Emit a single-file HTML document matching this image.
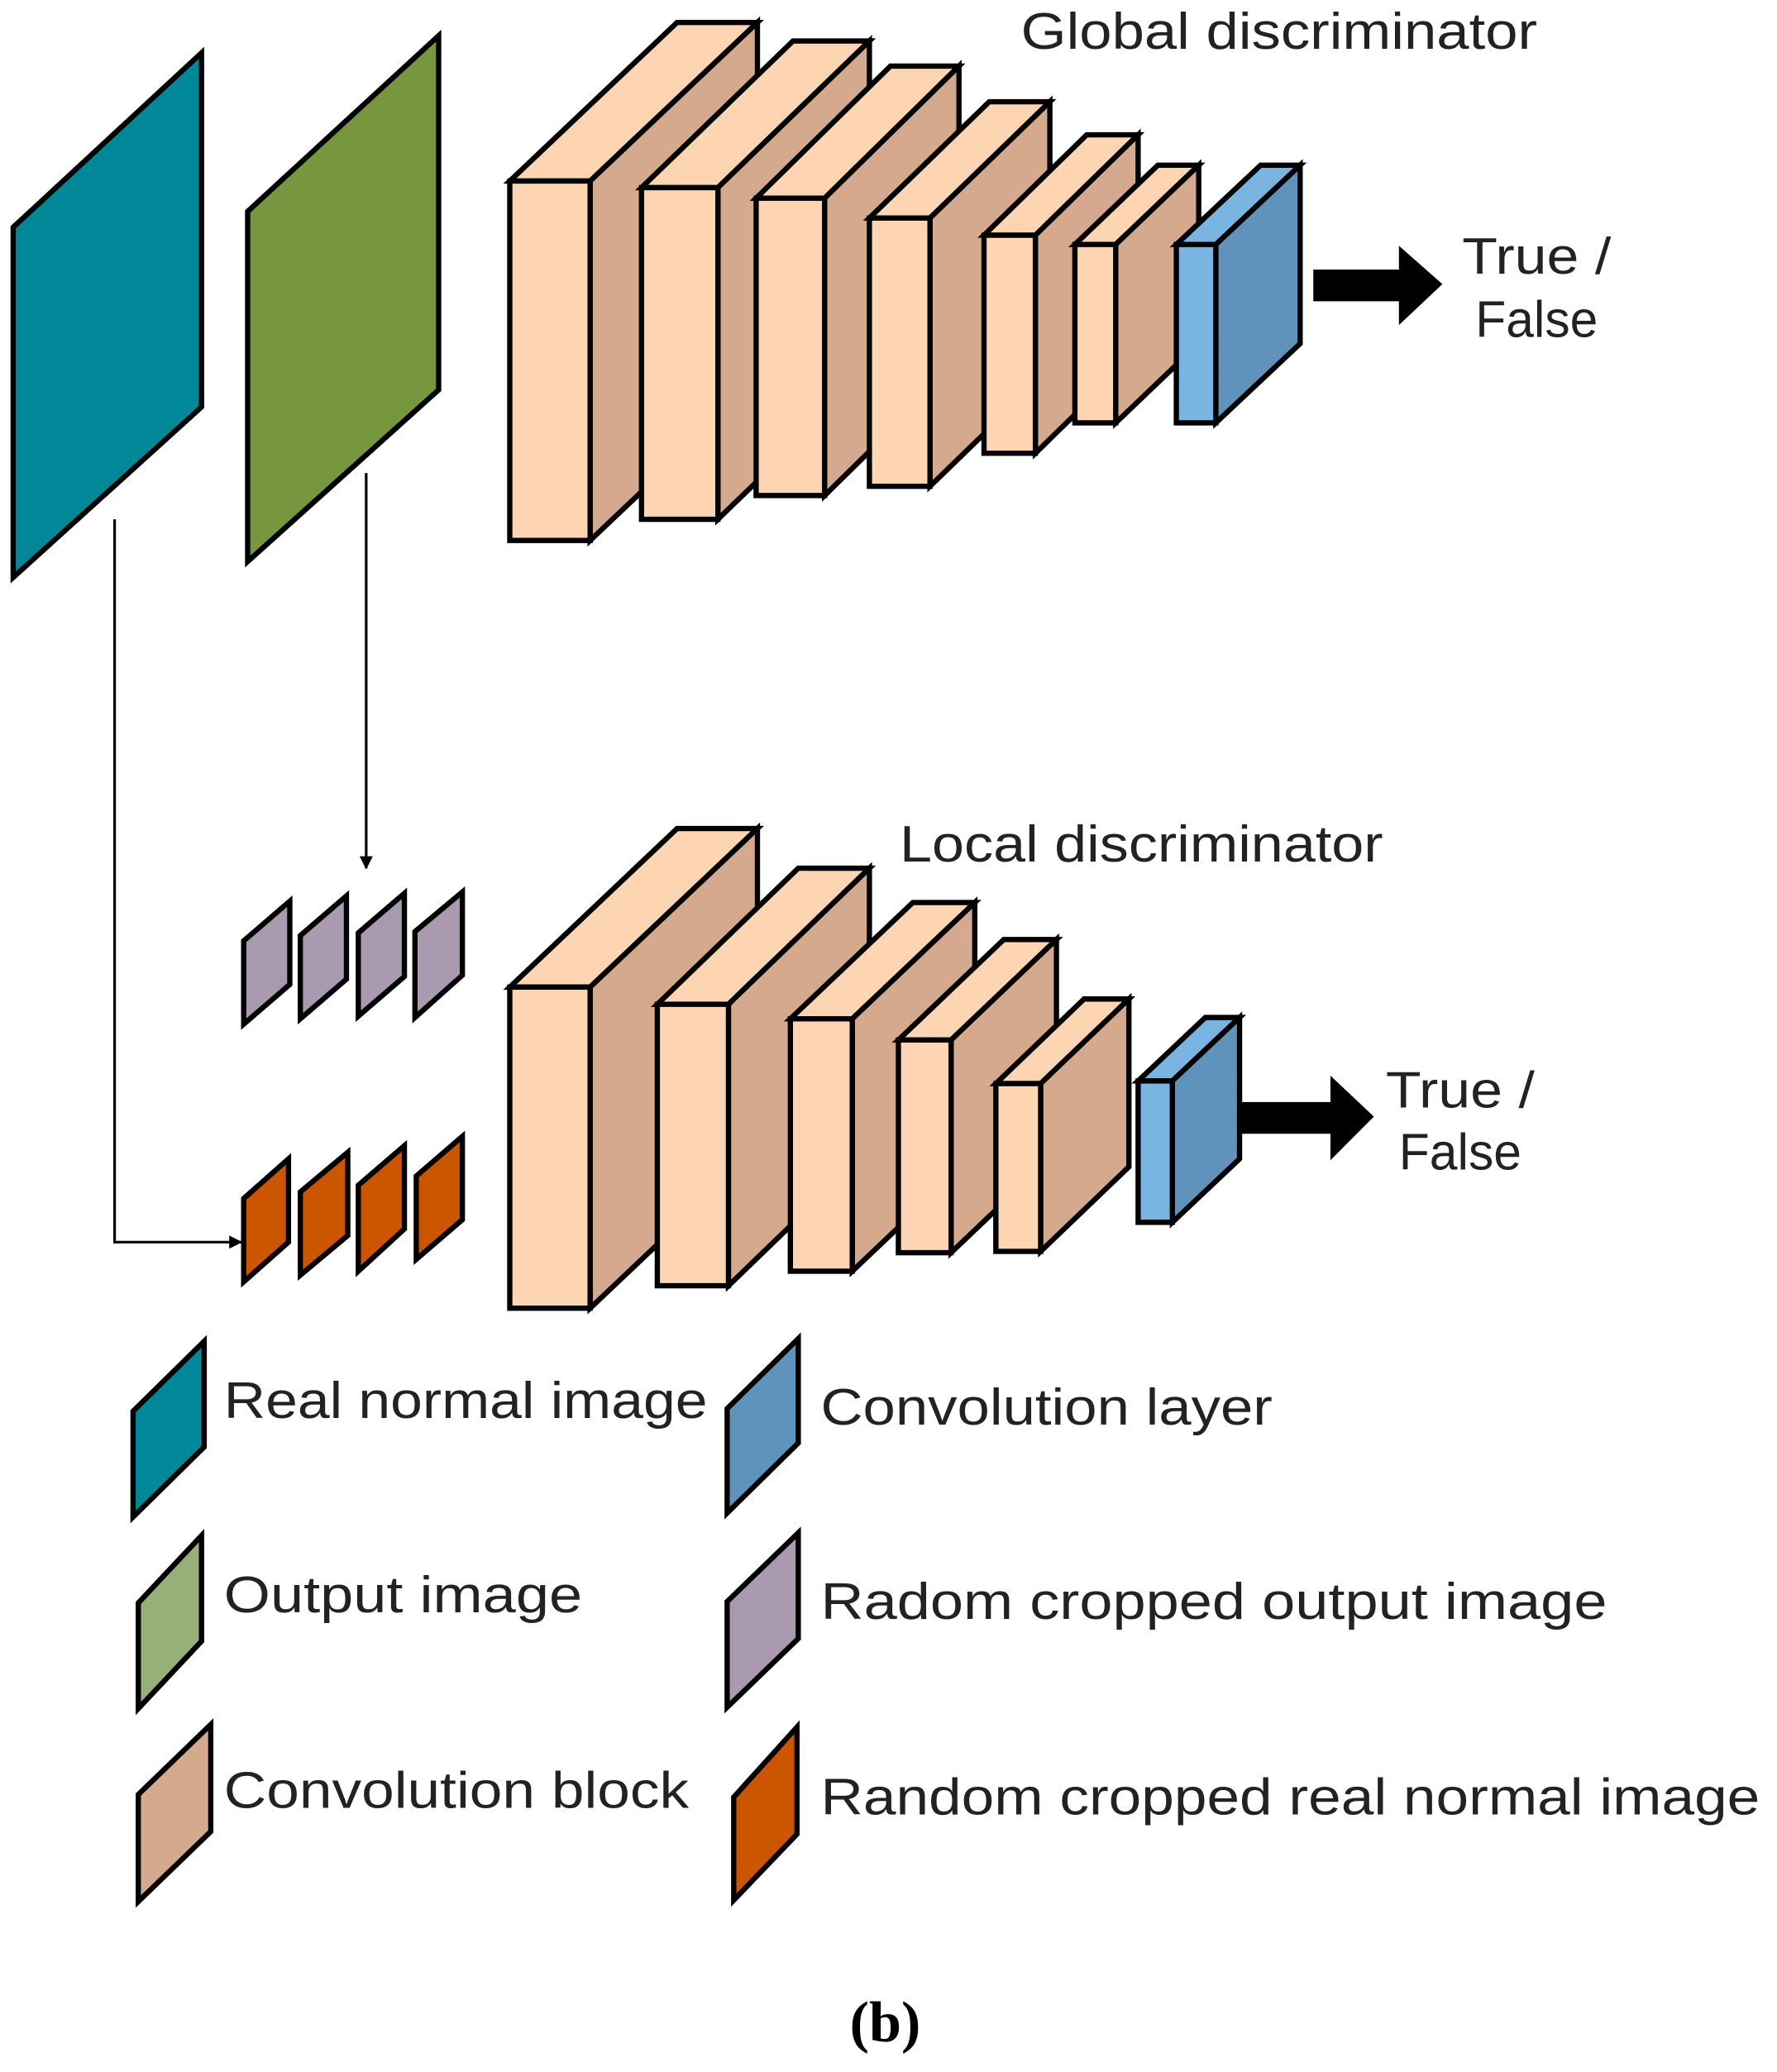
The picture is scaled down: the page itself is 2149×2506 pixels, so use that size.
<!DOCTYPE html>
<html><head><style>html,body{margin:0;padding:0;background:#fff}svg{display:block}</style></head><body>
<svg width="2149" height="2506" viewBox="0 0 1349 1568" preserveAspectRatio="none" xmlns="http://www.w3.org/2000/svg" font-family="Liberation Sans, sans-serif">
<defs><marker id="ah" markerWidth="10" markerHeight="10" refX="9" refY="5" orient="auto" markerUnits="userSpaceOnUse"><path d="M0,0 L10,5 L0,10 Z" fill="#000"/></marker></defs>
<g stroke="#000" stroke-width="4" stroke-linejoin="miter">
<polygon points="10,172 153,40 153,308 10,437" fill="#008898"/>
<polygon points="188,160 333,27 333,295 188,425" fill="#76973e"/>
<polygon points="387,137 514,17 575,17 448,137" fill="#fdd5b3"/><polygon points="448,137 575,17 575,289 448,409" fill="#d4a98e"/><rect x="387" y="137" width="61" height="272" fill="#fdd5b3"/>
<polygon points="487,142 602,31 660,31 545,142" fill="#fdd5b3"/><polygon points="545,142 660,31 660,282 545,393" fill="#d4a98e"/><rect x="487" y="142" width="58" height="251" fill="#fdd5b3"/>
<polygon points="574,150 676,50 728,50 626,150" fill="#fdd5b3"/><polygon points="626,150 728,50 728,275 626,375" fill="#d4a98e"/><rect x="574" y="150" width="52" height="225" fill="#fdd5b3"/>
<polygon points="660,165 751,77 797,77 706,165" fill="#fdd5b3"/><polygon points="706,165 797,77 797,280 706,368" fill="#d4a98e"/><rect x="660" y="165" width="46" height="203" fill="#fdd5b3"/>
<polygon points="747,178 825,102 864,102 786,178" fill="#fdd5b3"/><polygon points="786,178 864,102 864,267 786,343" fill="#d4a98e"/><rect x="747" y="178" width="39" height="165" fill="#fdd5b3"/>
<polygon points="816,185 879,125 910,125 847,185" fill="#fdd5b3"/><polygon points="847,185 910,125 910,260 847,320" fill="#d4a98e"/><rect x="816" y="185" width="31" height="135" fill="#fdd5b3"/>
<polygon points="893,185 957,125 987,125 923,185" fill="#7ab4e0"/><polygon points="923,185 987,125 987,260 923,320" fill="#5f93bc"/><rect x="893" y="185" width="30" height="135" fill="#7ab4e0"/>
<polygon points="387,747 514,627 575,627 448,747" fill="#fdd5b3"/><polygon points="448,747 575,627 575,870 448,990" fill="#d4a98e"/><rect x="387" y="747" width="61" height="243" fill="#fdd5b3"/>
<polygon points="499,760 606,657 660,657 553,760" fill="#fdd5b3"/><polygon points="553,760 660,657 660,870 553,973" fill="#d4a98e"/><rect x="499" y="760" width="54" height="213" fill="#fdd5b3"/>
<polygon points="600,771 693,683 740,683 647,771" fill="#fdd5b3"/><polygon points="647,771 740,683 740,874 647,962" fill="#d4a98e"/><rect x="600" y="771" width="47" height="191" fill="#fdd5b3"/>
<polygon points="682,787 762,711 802,711 722,787" fill="#fdd5b3"/><polygon points="722,787 802,711 802,872 722,948" fill="#d4a98e"/><rect x="682" y="787" width="40" height="161" fill="#fdd5b3"/>
<polygon points="756,820 823,756 857,756 790,820" fill="#fdd5b3"/><polygon points="790,820 857,756 857,883 790,947" fill="#d4a98e"/><rect x="756" y="820" width="34" height="127" fill="#fdd5b3"/>
<polygon points="864,818 915,770 941,770 890,818" fill="#7ab4e0"/><polygon points="890,818 941,770 941,877 890,925" fill="#5f93bc"/><rect x="864" y="818" width="26" height="107" fill="#7ab4e0"/>
<polygon points="185,712 220,682 220,745 185,775" fill="#a99ab0"/>
<polygon points="228,708 263,678 263,741 228,771" fill="#a99ab0"/>
<polygon points="272,706 307,676 307,739 272,769" fill="#a99ab0"/>
<polygon points="315,705 351,675 351,738 315,770" fill="#a99ab0"/>
<polygon points="185,907 219,877 219,940 185,970" fill="#cc5500"/>
<polygon points="228,902 264,872 264,935 228,965" fill="#cc5500"/>
<polygon points="272,897 307,867 307,930 272,962" fill="#cc5500"/>
<polygon points="316,890 351,860 351,923 316,953" fill="#cc5500"/>
<polygon points="101,1068 155,1015 155,1095 101,1148" fill="#008898"/>
<polygon points="105,1213 153,1162 153,1242 105,1293" fill="#97b07a"/>
<polygon points="105,1358 160,1305 160,1386 105,1439" fill="#d4a98e"/>
<polygon points="552,1066 606,1013 606,1092 552,1145" fill="#5f93bc"/>
<polygon points="552,1212 606,1160 606,1240 552,1292" fill="#a99ab0"/>
<polygon points="557,1360 605,1307 605,1388 557,1438" fill="#cc5500"/>
</g>
<g stroke="#000" stroke-width="2" fill="none">
<polyline points="87,393 87,940 183,940" marker-end="url(#ah)"/>
<line x1="278" y1="358" x2="278" y2="657" marker-end="url(#ah)"/>
</g>
<polygon points="997,204 1062,204 1062,186 1095,215 1062,246 1062,228 997,228" fill="#000"/>
<polygon points="942,834 1010,834 1010,814 1043,845 1010,878 1010,858 942,858" fill="#000"/>
<g fill="#222" font-size="39">
<text x="775" y="37" textLength="392" lengthAdjust="spacingAndGlyphs">Global discriminator</text>
<text x="1110" y="207" textLength="113" lengthAdjust="spacingAndGlyphs">True /</text>
<text x="1120" y="255" textLength="93" lengthAdjust="spacingAndGlyphs">False</text>
<text x="683" y="652" textLength="367" lengthAdjust="spacingAndGlyphs">Local discriminator</text>
<text x="1052" y="838" textLength="113" lengthAdjust="spacingAndGlyphs">True /</text>
<text x="1062" y="885" textLength="93" lengthAdjust="spacingAndGlyphs">False</text>
<text x="170" y="1073" textLength="367" lengthAdjust="spacingAndGlyphs">Real normal image</text>
<text x="170" y="1220" textLength="272" lengthAdjust="spacingAndGlyphs">Output image</text>
<text x="170" y="1368" textLength="353" lengthAdjust="spacingAndGlyphs">Convolution block</text>
<text x="623" y="1078" textLength="343" lengthAdjust="spacingAndGlyphs">Convolution layer</text>
<text x="623" y="1225" textLength="597" lengthAdjust="spacingAndGlyphs">Radom cropped output image</text>
<text x="623" y="1373" textLength="713" lengthAdjust="spacingAndGlyphs">Random cropped real normal image</text>
</g>
<text x="672" y="1545" text-anchor="middle" font-family="Liberation Serif, serif" font-weight="bold" font-size="44" fill="#000">(b)</text>
</svg>
</body></html>
